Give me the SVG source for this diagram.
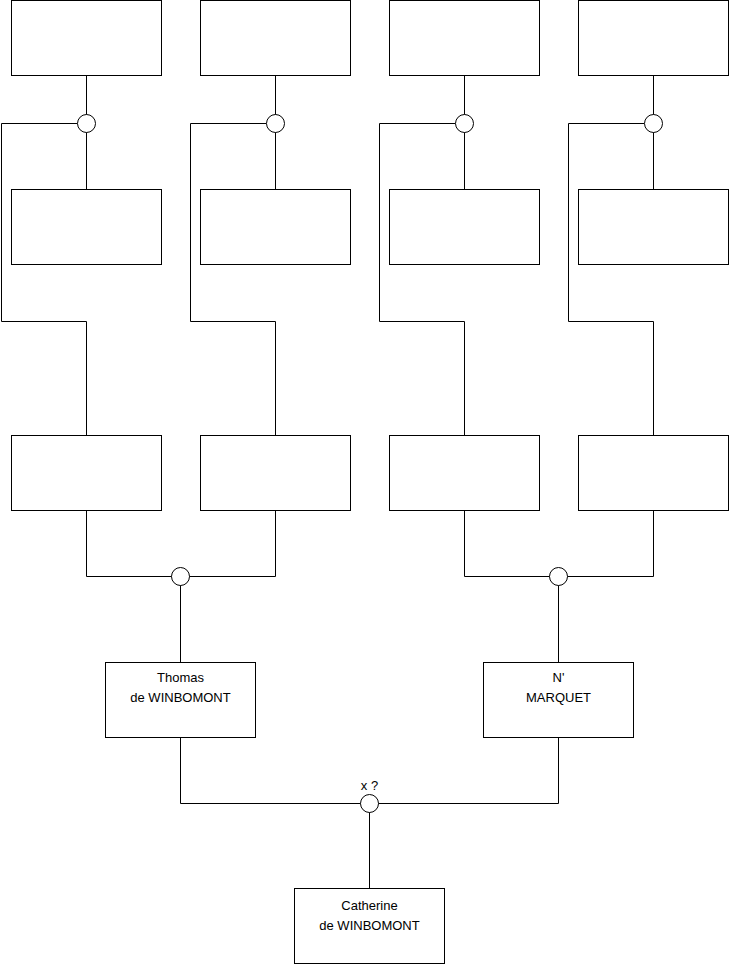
<svg xmlns="http://www.w3.org/2000/svg" width="740" height="975" viewBox="0 0 740 975">
<style>
.box{fill:#fff;stroke:#000;stroke-width:1}
.dot{fill:#fff;stroke:#000;stroke-width:1}
.ln{fill:none;stroke:#000;stroke-width:1}
text{font-family:"Liberation Sans",Arial,sans-serif;font-size:13px;fill:#000;text-anchor:middle}
</style>
<rect width="740" height="975" fill="#fff"/>
<g id="connectors">
<path class="ln" d="M86.5 76V189M77.5 123.5H1.5V321.5H86.5V435"/>
<path class="ln" d="M275.5 76V189M266.5 123.5H190.5V321.5H275.5V435"/>
<path class="ln" d="M464.5 76V189M455.5 123.5H379.5V321.5H464.5V435"/>
<path class="ln" d="M653.5 76V189M644.5 123.5H568.5V321.5H653.5V435"/>
<path class="ln" d="M86.5 511V576.5H275.5V511M180.5 576.5V662"/>
<path class="ln" d="M464.5 511V576.5H653.5V511M558.5 576.5V662"/>
<path class="ln" d="M180.5 737V803.5H558.5V737M369.5 803.5V888"/>
</g>
<g id="g1"><rect class="box" x="11.5" y="0.5" width="150" height="75"/></g>
<g id="g2"><rect class="box" x="200.5" y="0.5" width="150" height="75"/></g>
<g id="g3"><rect class="box" x="389.5" y="0.5" width="150" height="75"/></g>
<g id="g4"><rect class="box" x="578.5" y="0.5" width="150" height="75"/></g>
<g id="m1"><circle class="dot" cx="86.5" cy="123.5" r="9"/></g>
<g id="m2"><circle class="dot" cx="275.5" cy="123.5" r="9"/></g>
<g id="m3"><circle class="dot" cx="464.5" cy="123.5" r="9"/></g>
<g id="m4"><circle class="dot" cx="653.5" cy="123.5" r="9"/></g>
<g id="g5"><rect class="box" x="11.5" y="189.5" width="150" height="75"/></g>
<g id="g6"><rect class="box" x="200.5" y="189.5" width="150" height="75"/></g>
<g id="g7"><rect class="box" x="389.5" y="189.5" width="150" height="75"/></g>
<g id="g8"><rect class="box" x="578.5" y="189.5" width="150" height="75"/></g>
<g id="p1"><rect class="box" x="11.5" y="435.5" width="150" height="75"/></g>
<g id="p2"><rect class="box" x="200.5" y="435.5" width="150" height="75"/></g>
<g id="p3"><rect class="box" x="389.5" y="435.5" width="150" height="75"/></g>
<g id="p4"><rect class="box" x="578.5" y="435.5" width="150" height="75"/></g>
<g id="m5"><circle class="dot" cx="180.5" cy="576.5" r="9"/></g>
<g id="m6"><circle class="dot" cx="558.5" cy="576.5" r="9"/></g>
<g id="thomas"><rect class="box" x="105.5" y="662.5" width="150" height="75"/><text x="180.5" y="682">Thomas</text><text x="180.5" y="702">de WINBOMONT</text></g>
<g id="marquet"><rect class="box" x="483.5" y="662.5" width="150" height="75"/><text x="558.5" y="682">N'</text><text x="558.5" y="702">MARQUET</text></g>
<g id="m7"><circle class="dot" cx="369.5" cy="803.5" r="9"/><text x="369.5" y="790">x ?</text></g>
<g id="catherine"><rect class="box" x="294.5" y="888.5" width="150" height="75"/><text x="369.5" y="910">Catherine</text><text x="369.5" y="930">de WINBOMONT</text></g>
</svg>
